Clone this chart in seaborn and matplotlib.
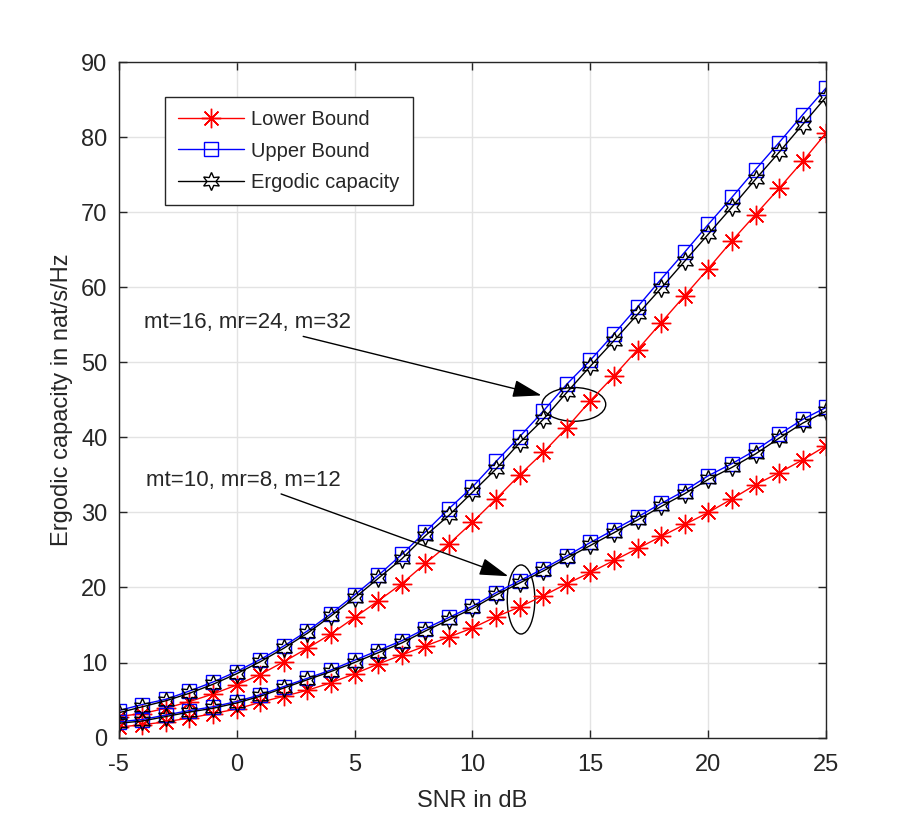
import numpy as np
import pandas as pd
import seaborn as sns
import matplotlib.pyplot as plt
from matplotlib.patches import Ellipse

snr = list(range(-5, 26))

# mt=16, mr=24, m=32
upper_16 = [3.6, 4.4, 5.1, 6.2, 7.4, 8.8, 10.4, 12.2, 14.2, 16.5, 19.0, 21.6, 24.4, 27.4, 30.5, 33.4,
            36.8, 40.1, 43.5, 47.1, 50.3, 53.8, 57.4, 61.1, 64.7, 68.4, 72.0, 75.7, 79.3, 83.0, 86.6]
ergodic_16 = [3.3, 4.1, 4.9, 5.9, 7.1, 8.5, 10.1, 11.9, 13.9, 16.2, 18.6, 21.2, 23.8, 26.9, 29.6, 32.7,
              35.8, 39.3, 42.4, 46.0, 49.5, 52.9, 56.4, 59.9, 63.5, 67.1, 70.7, 74.4, 78.0, 81.7, 85.4]
lower_16 = [2.8, 3.2, 3.9, 4.8, 5.8, 7.0, 8.4, 10.1, 11.9, 13.8, 16.0, 18.2, 20.5, 23.2, 25.8, 28.7,
            31.8, 35.0, 38.0, 41.3, 44.9, 48.2, 51.7, 55.3, 58.9, 62.5, 66.2, 69.7, 73.2, 76.8, 80.6]

# mt=10, mr=8, m=12
upper_10 = [2.1, 2.4, 3.0, 3.6, 4.1, 4.8, 5.7, 6.8, 7.9, 9.0, 10.3, 11.6, 12.9, 14.5, 16.0, 17.5,
            19.3, 20.9, 22.5, 24.2, 26.0, 27.7, 29.4, 31.2, 32.9, 34.9, 36.5, 38.3, 40.4, 42.4, 44.0]
ergodic_10 = [1.9, 2.2, 2.8, 3.4, 3.9, 4.6, 5.5, 6.6, 7.7, 8.8, 10.0, 11.3, 12.6, 14.2, 15.7, 17.2,
              19.0, 20.6, 22.2, 23.9, 25.6, 27.3, 29.0, 30.8, 32.5, 34.4, 36.0, 37.8, 39.9, 41.9, 43.5]
lower_10 = [1.4, 1.7, 2.1, 2.6, 3.2, 3.8, 4.7, 5.5, 6.3, 7.3, 8.5, 9.8, 11.0, 12.2, 13.4, 14.6,
            16.1, 17.4, 18.9, 20.5, 22.0, 23.6, 25.2, 26.8, 28.4, 30.0, 31.8, 33.7, 35.3, 37.0, 38.9]

series = [
    ("Lower Bound", lower_16, "#ff0000", (8, 2, 0), 14),
    ("Upper Bound", upper_16, "#0000ff", "s", 10),
    ("Ergodic capacity", ergodic_16, "#000000", (6, 1, 0), 13),
    (None, lower_10, "#ff0000", (8, 2, 0), 14),
    (None, upper_10, "#0000ff", "s", 10),
    (None, ergodic_10, "#000000", (6, 1, 0), 13),
]

sns.set_style("whitegrid")
plt.rcParams['font.family'] = ['Liberation Sans Narrow', 'Liberation Sans', 'DejaVu Sans']
plt.rcParams['axes.unicode_minus'] = False

fig = plt.figure(figsize=(9.13, 8.30), dpi=100)
ax = fig.add_axes([0.130, 0.1114, 0.775, 0.8136])

for label, vals, col, mk, ms in series:
    df = pd.DataFrame({'SNR': snr, 'Cap': vals})
    sns.lineplot(data=df, x='SNR', y='Cap', ax=ax, color=col, marker=mk, markersize=ms,
                 markerfacecolor='none', markeredgecolor=col, markeredgewidth=1.0,
                 linewidth=1.0, label=label, legend=False)

ax.set_xlim(-5, 25)
ax.set_ylim(0, 90)
ax.set_xticks(range(-5, 26, 5))
ax.set_yticks(range(0, 91, 10))
ax.grid(True, color='#e3e3e3', linewidth=1.0)
for s in ax.spines.values():
    s.set_visible(True)
    s.set_color('#262626')
    s.set_linewidth(1.0)
ax.tick_params(direction='in', length=6, width=1.0, colors='#262626', labelsize=17,
               top=True, right=True, bottom=True, left=True)
ax.tick_params(axis='x', pad=12)
ax.tick_params(axis='y', pad=8)
ax.set_xlabel("SNR in dB", fontsize=17, color='#262626', labelpad=10)
ax.set_ylabel("Ergodic capacity in nat/s/Hz", fontsize=17, color='#262626', labelpad=6)

handles, labels = ax.get_legend_handles_labels()
leg = ax.legend(handles[:3], labels[:3], loc='upper left', bbox_to_anchor=(0.065, 0.948),
                borderaxespad=0, fancybox=False, edgecolor='#262626', framealpha=1, fontsize=14.5,
                handlelength=3.3, borderpad=0.65, labelspacing=0.6, handletextpad=0.35)
leg.get_frame().set_linewidth(1.0)

ax.add_patch(Ellipse((14.3, 44.4), 2.7, 4.5, fill=False, edgecolor='black', linewidth=1.0))
ax.add_patch(Ellipse((12.06, 18.4), 1.17, 9.2, fill=False, edgecolor='black', linewidth=1.0))

arrow = dict(arrowstyle='-|>,head_length=1.5,head_width=0.45', color='black', linewidth=1.0,
             shrinkA=0, shrinkB=0, mutation_scale=12)
ax.annotate("mt=16, mr=24, m=32", xy=(12.93, 45.6), xytext=(4.85, 55.3), fontsize=16,
            ha='right', va='center', arrowprops=arrow)
ax.annotate("mt=10, mr=8, m=12", xy=(11.52, 21.5), xytext=(4.4, 34.3), fontsize=16,
            ha='right', va='center', arrowprops=arrow)

plt.savefig('out.png', dpi=100)
plt.close()
